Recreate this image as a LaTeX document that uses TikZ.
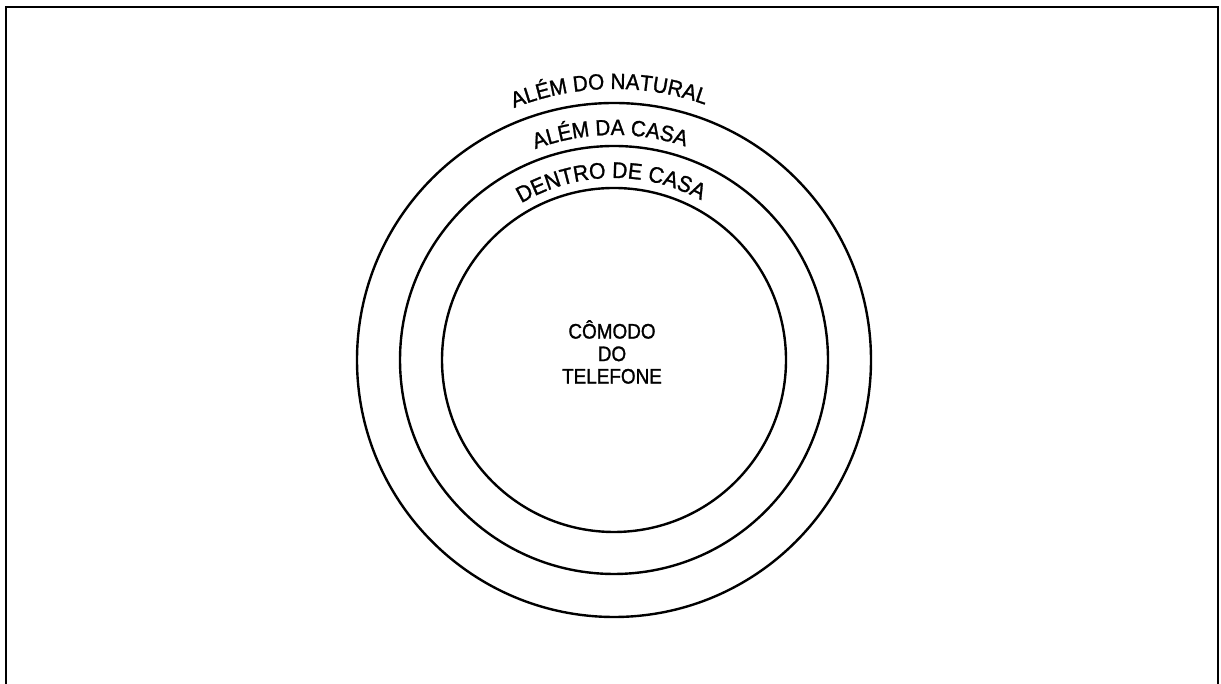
\documentclass[tikz,border=0pt]{standalone}
\usepackage{fontspec}
\setmainfont{Liberation Sans}
\newfontfamily\arcfont[FakeStretch=0.94,FakeBold=1.2]{Liberation Sans}
\newfontfamily\midfont[FakeStretch=0.9,FakeBold=1.2]{Liberation Sans}
\usetikzlibrary{decorations.text,calc}
\begin{document}
\begin{tikzpicture}[x=1pt,y=1pt,
  ring/.style={line width=2.4pt},
  frameline/.style={line width=2pt},
  arclabel/.style={decorate, decoration={text along path, text align=center, text={#1}}}]
\useasboundingbox (0,0) rectangle (1221,684);
\fill[white] (0,0) rectangle (1221,684);
\coordinate (c) at (614,324);
% frame
\draw[frameline] (6,-5) -- (6,676.5) -- (1218,676.5) -- (1218,-5);
% rings
\draw[ring] (c) circle[radius=172];
\draw[ring] (c) circle[radius=214];
\draw[ring] (c) circle[radius=257];
% curved labels
\path[arclabel={|\arcfont\fontsize{22}{22}\selectfont|ALÉM DO NATURAL}]
  ($(c)+(151:271)$) arc[start angle=151, end angle=31, radius=271];
\path[arclabel={|\arcfont\fontsize{22}{22}\selectfont|ALÉM DA CASA}]
  ($(c)+(151:225)$) arc[start angle=151, end angle=31, radius=225];
\path[arclabel={|\arcfont\fontsize{22.5}{22.5}\selectfont|DENTRO DE CASA}]
  ($(c)+(151:182)$) arc[start angle=151, end angle=31, radius=182];
% centre label
\node[align=center, font=\midfont\fontsize{21}{22.5}\selectfont, inner sep=0pt] (centre) at (612,332) {CÔMODO\\DO\\TELEFONE};
\end{tikzpicture}
\end{document}
